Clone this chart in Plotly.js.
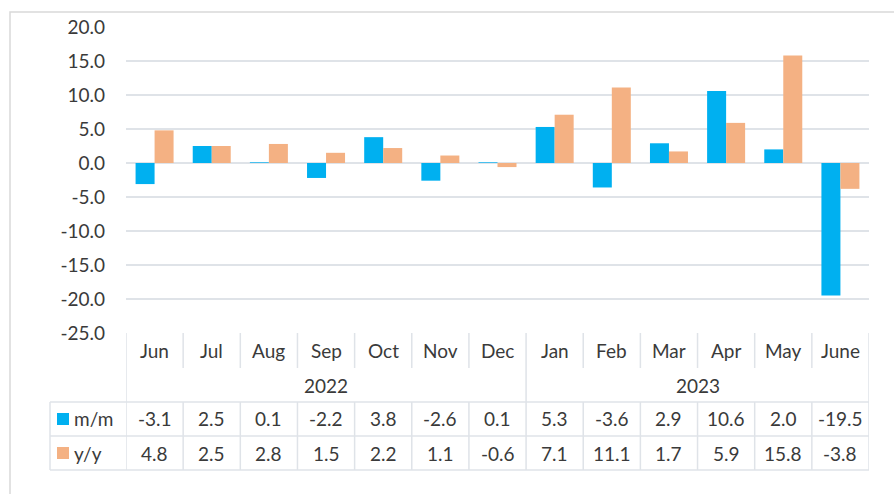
<!DOCTYPE html>
<html>
<head>
<meta charset="utf-8">
<script src="https://cdn.plot.ly/plotly-3.0.1.min.js"></script>
<style>html,body{margin:0;padding:0;background:#fff;}#chart{width:894px;height:494px;}</style>
</head>
<body>
<div id="chart"></div>
<script>
const months = ["Jun","Jul","Aug","Sep","Oct","Nov","Dec","Jan","Feb","Mar","Apr","May","June"];
const years = ["2022","2023"];
const yearSpans = [[0,6],[7,12]];
const seriesNames = ["m/m","y/y"];
const mm = [-3.1, 2.5, 0.1, -2.2, 3.8, -2.6, 0.1, 5.3, -3.6, 2.9, 10.6, 2.0, -19.5];
const yy = [4.8, 2.5, 2.8, 1.5, 2.2, 1.1, -0.6, 7.1, 11.1, 1.7, 5.9, 15.8, -3.8];
const yTicks = [20, 15, 10, 5, 0, -5, -10, -15, -20, -25];

const colors = ["#00B0F0", "#F4B183"];
const W = 894, H = 494;
const L = 126, R = 869, T = 27, B = 333;
const font = "Lato, 'Open Sans', sans-serif";
const txt = "#3A3A3A";
const grid = "#DFE3E8";
const fs = 19;

const idx = months.map((_, i) => i);
const py = p => (B - p) / (B - T);      // pixel y -> paper
const px = p => (p - L) / (R - L);      // pixel x -> paper

const traces = [mm, yy].map((vals, k) => ({
  type: "bar", x: idx, y: vals, name: seriesNames[k],
  marker: {color: colors[k], line: {width: 0}},
  showlegend: false, hoverinfo: "y"
}));

const shapes = [];
const annotations = [];
const line = (x0, y0, x1, y1, xref) => shapes.push({type: "line", xref: xref || "x", yref: "paper",
  x0, y0, x1, y1, line: {color: grid, width: 1.5}, layer: "below"});

const rTop = 333, rMonth = 368, rMM = 402, rYY = 436, rBot = 470;
const nC = months.length;

for (let i = 0; i <= nC; i++) line(i - 0.5, py(rTop), i - 0.5, py(rMonth));
line(-0.5, py(rMonth), -0.5, py(rMM));
yearSpans.forEach(s => line(s[1] + 0.5, py(rMonth), s[1] + 0.5, py(rMM)));
for (let i = 0; i <= nC; i++) line(i - 0.5, py(rMM), i - 0.5, py(rBot));
line(px(50), py(rMM), px(50), py(rBot), "paper");
[rMM, rYY, rBot].forEach(p => line(px(50), py(p), 1, py(p), "paper"));

shapes.push({type: "rect", xref: "paper", yref: "paper",
  x0: px(10), x1: px(W + 5), y0: py(12), y1: py(H + 5),
  line: {color: "#D9D9D9", width: 1.5}, fillcolor: "rgba(0,0,0,0)", layer: "below"});

const ann = (x, y, text, xanchor, xref) => annotations.push({x, y, xref: xref || "x", yref: "paper", text,
  showarrow: false, xanchor: xanchor || "center", yanchor: "middle", font: {family: font, size: fs, color: txt}});

months.forEach((m, i) => ann(i, py((rTop + rMonth) / 2), m));
years.forEach((yv, k) => ann((yearSpans[k][0] + yearSpans[k][1]) / 2, py((rMonth + rMM) / 2), yv));
[mm, yy].forEach((vals, k) => {
  const yc = k === 0 ? (rMM + rYY) / 2 : (rYY + rBot) / 2;
  vals.forEach((v, i) => ann(i, py(yc), v.toFixed(1)));
  ann(px(72), py(yc), seriesNames[k], "left", "paper");
  shapes.push({type: "rect", xref: "paper", yref: "paper", x0: px(57), x1: px(69),
    y0: py(yc + 6), y1: py(yc - 6), line: {width: 0}, fillcolor: colors[k]});
});

const layout = {
  width: W, height: H,
  margin: {l: L, r: W - R, t: T, b: H - B, pad: 0},
  paper_bgcolor: "#fff", plot_bgcolor: "#fff",
  barmode: "group", bargap: 0.335, bargroupgap: 0,
  font: {family: font, size: fs, color: txt},
  xaxis: {range: [-0.5, nC - 0.5], showticklabels: false, showgrid: false, zeroline: false, showline: false, fixedrange: true},
  yaxis: {range: [-25, 20], tickvals: yTicks, ticktext: yTicks.map(v => v.toFixed(1)),
    showgrid: true, gridcolor: grid, gridwidth: 1.5, zeroline: true, zerolinecolor: grid, zerolinewidth: 1.5,
    showline: false, ticks: "", ticklabelstandoff: 20, tickfont: {family: font, size: fs, color: txt}},
  shapes, annotations
};

Plotly.newPlot("chart", traces, layout, {displayModeBar: false, staticPlot: true});
</script>
</body>
</html>
